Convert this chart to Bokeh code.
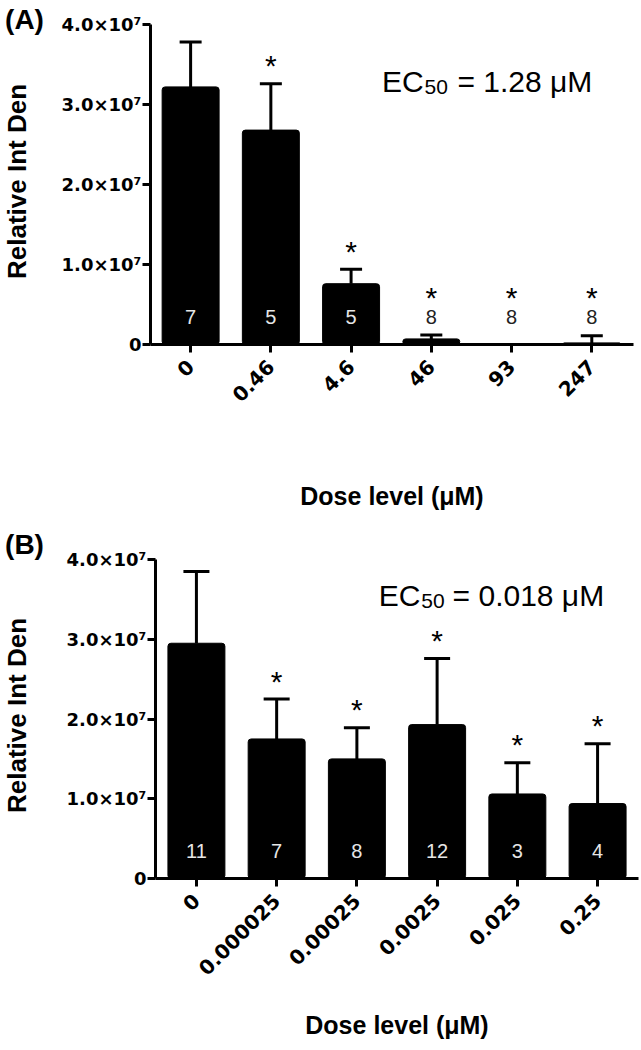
import math
import numpy as np
from bokeh.plotting import figure
from bokeh.models import Range1d, FixedTicker, Whisker, TeeHead, ColumnDataSource, Label
from bokeh.layouts import column, row
from bokeh.core.properties import value
from bokeh.embed import file_html
from bokeh.resources import INLINE

# ---------------- data ----------------
doses_a = ["0", "0.46", "4.6", "46", "93", "247"]
mean_a = [3.22e7, 2.68e7, 0.76e7, 0.07e7, 0.0, 0.02e7]
err_a = [0.56e7, 0.58e7, 0.18e7, 0.05e7, 0.0, 0.09e7]
n_a = [7, 5, 5, 8, 8, 8]
sig_a = [False, True, True, True, True, True]
ec50_a = "1.28"

doses_b = ["0", "0.000025", "0.00025", "0.0025", "0.025", "0.25"]
mean_b = [2.95e7, 1.75e7, 1.50e7, 1.93e7, 1.06e7, 0.94e7]
err_b = [0.90e7, 0.50e7, 0.39e7, 0.83e7, 0.39e7, 0.75e7]
n_b = [11, 7, 8, 12, 3, 4]
sig_b = [False, True, True, True, True, True]
ec50_b = "0.018"

y_ticks = [0, 10000000, 20000000, 30000000, 40000000]
y_tick_labels = ["0", "1.0×10⁷", "2.0×10⁷", "3.0×10⁷", "4.0×10⁷"]

SANS = "Liberation Sans"
SIDE_W = 54
TOTAL_W = 640


def side_panel(tag, height, tag_from_top, ylab_from_top):
    s = figure(width=SIDE_W, height=height, x_range=Range1d(0, SIDE_W),
               y_range=Range1d(0, height), output_backend="svg",
               toolbar_location=None, x_axis_type=None, y_axis_type=None,
               min_border_left=0, min_border_right=0, min_border_top=0,
               min_border_bottom=0, frame_align=False)
    s.outline_line_color = None
    s.xgrid.visible = False
    s.ygrid.visible = False
    s.text(x=[24], y=[height - tag_from_top], text=[tag], text_color="black",
           text_font=value(SANS), text_font_size="28px", text_font_style="bold",
           text_align="center", text_baseline="middle")
    s.text(x=[16], y=[height - ylab_from_top], text=["Relative Int Den"],
           angle=math.pi / 2, text_color="black", text_font=value(SANS),
           text_font_size="26px", text_font_style="bold",
           text_align="center", text_baseline="middle")
    return s


def make_panel(doses, mean, err, n, sig, ec50, ec_x, ec_y, eq_dx,
               border_left, border_top, border_bottom, height, x0, x1, cap,
               xlab_standoff):
    x = np.arange(len(doses), dtype=float)
    mean = np.asarray(mean, dtype=float)
    err = np.asarray(err, dtype=float)
    upper = mean + err
    width = TOTAL_W - SIDE_W

    p = figure(width=width, height=height, x_range=Range1d(x0, x1),
               y_range=Range1d(0, 4e7), output_backend="svg",
               toolbar_location=None, min_border_left=border_left,
               min_border_top=border_top, min_border_bottom=border_bottom,
               min_border_right=width - border_left - 483, frame_align=False)
    p.outline_line_color = None
    p.xgrid.visible = False
    p.ygrid.visible = False

    p.vbar(x=x, top=mean, width=0.71, fill_color="black", line_color="black",
           border_radius=3)

    keep = err > 0
    src = ColumnDataSource(dict(x=x[keep], lower=mean[keep], upper=upper[keep]))
    wh = Whisker(base="x", lower="lower", upper="upper", source=src,
                 line_width=3, line_color="black",
                 upper_head=TeeHead(size=cap, line_width=3, line_color="black"),
                 lower_head=None)
    p.add_layout(wh)

    # sample-size labels
    n_y = 0.34e7
    n_colors = ["#e6e6e6" if m > 0.5e7 else "#222222" for m in mean]
    p.text(x=x, y=[n_y] * len(x), text=[str(v) for v in n],
           text_color=n_colors, text_font=value(SANS), text_font_size="20px",
           text_align="center", text_baseline="middle")

    # significance stars
    sel = np.array(sig)
    sx = x[sel]
    sy = np.maximum(upper + 0.25e7, n_y + 0.27e7)[sel]
    p.text(x=sx, y=sy, text=["*"] * len(sx), text_color="black",
           text_font=value(SANS), text_font_size="30px", text_align="center",
           text_baseline="alphabetic", y_offset=2)

    # EC50 annotation (EC + subscript 50 + value)
    p.add_layout(Label(x=ec_x, y=ec_y, text="EC", text_font=SANS,
                       text_font_size="30px", text_color="black",
                       text_align="right", text_baseline="alphabetic"))
    p.add_layout(Label(x=ec_x + 0.01, y=ec_y - 0.075e7, text="50",
                       text_font=SANS, text_font_size="21px",
                       text_color="black", text_align="left",
                       text_baseline="alphabetic"))
    p.add_layout(Label(x=ec_x + eq_dx, y=ec_y, text="= " + ec50 + " μM",
                       text_font=SANS, text_font_size="30px",
                       text_color="black", text_align="left",
                       text_baseline="alphabetic"))

    for ax in (p.xaxis, p.yaxis):
        ax.axis_line_width = 3
        ax.major_tick_line_width = 3
        ax.major_tick_out = 8
        ax.major_tick_in = 0
        ax.minor_tick_out = 0
        ax.minor_tick_in = 0
        ax.major_label_text_font = "DejaVu Sans"
        ax.major_label_text_font_style = "bold"
        ax.major_label_text_color = "black"
        ax.axis_label_text_font = SANS
        ax.axis_label_text_font_style = "bold"
        ax.axis_label_text_color = "black"

    p.yaxis.ticker = FixedTicker(ticks=y_ticks)
    p.yaxis.major_label_overrides = dict(zip(y_ticks, y_tick_labels))
    p.yaxis.major_label_standoff = 1
    p.yaxis.major_label_text_font_size = "18px"

    p.xaxis.ticker = FixedTicker(ticks=list(range(len(doses))))
    p.xaxis.major_label_overrides = {i: d for i, d in enumerate(doses)}
    p.xaxis.major_label_orientation = math.pi / 4
    p.xaxis.major_label_standoff = 11
    p.xaxis.major_label_text_font_size = "20px"
    p.xaxis.axis_label = "Dose level (μM)"
    p.xaxis.axis_label_text_font_size = "25px"
    p.xaxis.axis_label_standoff = xlab_standoff
    return p


HA, HB = 520, 528
sA = side_panel("(A)", HA, tag_from_top=19, ylab_from_top=181)
pA = make_panel(doses_a, mean_a, err_a, n_a, sig_a, ec50_a,
                ec_x=2.905, ec_y=3.29e7, eq_dx=0.42,
                border_left=96, border_top=24, border_bottom=176, height=HA,
                x0=-0.5, x1=5.52, cap=22, xlab_standoff=71)
sB = side_panel("(B)", HB, tag_from_top=24, ylab_from_top=195)
pB = make_panel(doses_b, mean_b, err_b, n_b, sig_b, ec50_b,
                ec_x=2.793, ec_y=3.55e7, eq_dx=0.40,
                border_left=101, border_top=39, border_bottom=170, height=HB,
                x0=-0.51, x1=5.51, cap=26, xlab_standoff=26)

layout = column(row(sA, pA), row(sB, pB))
open("out.html", "w").write(file_html(layout, INLINE))
